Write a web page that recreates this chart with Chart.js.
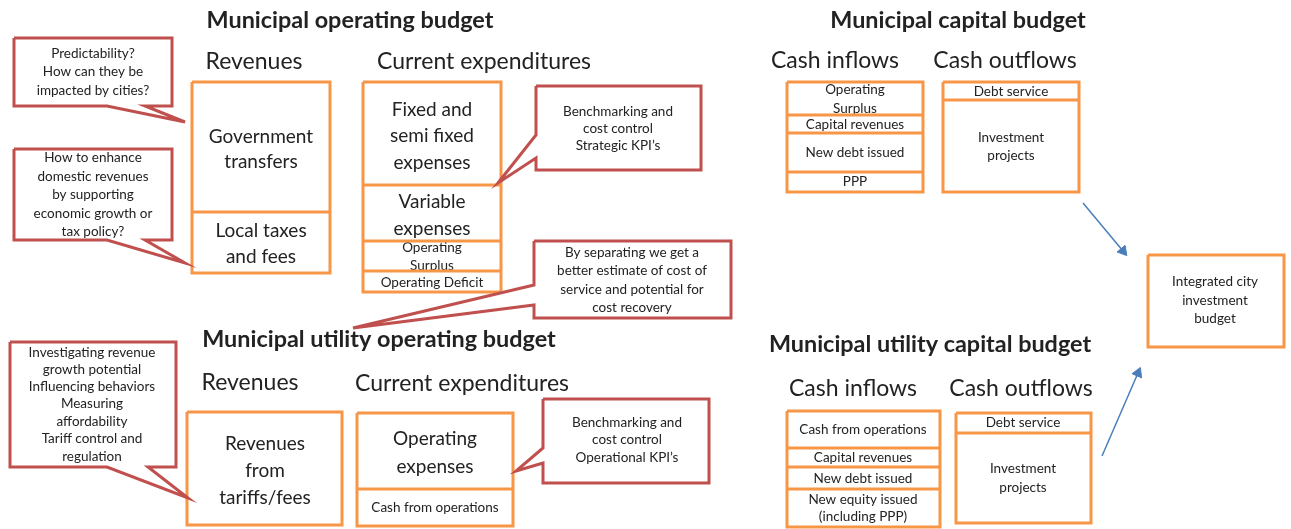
<!DOCTYPE html>
<html>
<head>
<meta charset="utf-8">
<script src="https://cdn.jsdelivr.net/npm/chart.js@4"></script>
<style>
  html, body { margin: 0; padding: 0; background: #fff; }
  #wrap { width: 1291px; height: 529px; }
</style>
</head>
<body>
<div id="wrap"><canvas id="diagram" width="1291" height="529"></canvas></div>
<script>
// diagram data - coordinates are in the chart's own units (x 0..1291, y 0..529 top-down)
const boxes = [
  [192, 82, 330, 273],
  [363, 82, 501, 292],
  [787, 82, 923, 192],
  [943, 82, 1079, 192],
  [1148, 255, 1284, 347],
  [187, 412, 342, 525],
  [357, 413, 513, 526],
  [787, 411, 940, 527],
  [956, 413, 1091, 523],
];
// [xStart, xEnd, y]
const dividers = [
  [192, 330, 212],
  [363, 501, 185], [363, 501, 241], [363, 501, 271],
  [787, 923, 115], [787, 923, 133], [787, 923, 172],
  [943, 1079, 100],
  [357, 513, 489],
  [787, 940, 448], [787, 940, 467], [787, 940, 489],
  [956, 1091, 433],
];
// callout rect, side of the tail, tail base (2 values along side), tip
const calloutRects = [
  [14, 38, 172, 106],
  [14, 149, 172, 240],
  [536, 86, 701, 170],
  [534, 241, 731, 318],
  [543, 399, 709, 483],
  [10, 342, 176, 467],
];
const calloutSides = ['bottom', 'bottom', 'left', 'left', 'left', 'bottom'];
const calloutBases = [[107, 145], [107, 145], [135, 158], [285, 305], [448, 463], [107, 148]];
const calloutTips = [[185, 122], [185, 263], [498, 183], [353, 328], [516, 471], [188, 498]];
const calloutText = [
  ['Predictability?', 'How can they be', 'impacted by cities?'],
  ['How to enhance', 'domestic revenues', 'by supporting', 'economic growth or', 'tax policy?'],
  ['Benchmarking and', 'cost control', 'Strategic KPI\u2019s'],
  ['By separating we get a', 'better estimate of cost of', 'service and potential for', 'cost recovery'],
  ['Benchmarking and', 'cost control', 'Operational KPI\u2019s'],
  ['Investigating revenue', 'growth potential', 'Influencing behaviors', 'Measuring', 'affordability', 'Tariff control and', 'regulation'],
];
const calloutTextX = [93, 93, 618, 632, 627, 92];
const calloutTextY = [
  [54, 72, 91],
  [158, 177, 195, 214, 232],
  [112, 129, 146],
  [253, 271, 290, 308],
  [423, 440, 458],
  [353, 370, 387, 404, 422, 439, 457],
];
// arrows [x0, y0, x1, y1]
const arrows = [
  [1083, 203, 1123, 251],
  [1102, 456, 1138, 373],
];

const titles = ['Municipal operating budget', 'Municipal capital budget', 'Municipal utility operating budget', 'Municipal utility capital budget'];
const titleXY = [[350, 20], [958, 20], [379, 339], [930, 344]];

const headers = ['Revenues', 'Current expenditures', 'Cash inflows', 'Cash outflows',
  'Revenues', 'Current expenditures', 'Cash inflows', 'Cash outflows'];
const headerXY = [[254, 62], [484, 62], [835, 61], [1005, 61], [250, 383], [462, 384], [853, 389], [1021, 389]];

const bigText = [
  ['Government', 261, 137], ['transfers', 261, 162],
  ['Local taxes', 261, 231], ['and fees', 261, 257],
  ['Fixed and', 432, 110], ['semi fixed', 432, 136], ['expenses', 432, 163],
  ['Variable', 432, 202], ['expenses', 432, 229],
  ['Revenues', 265, 444], ['from', 265, 471], ['tariffs/fees', 265, 498],
  ['Operating', 435, 439], ['expenses', 435, 467],
];
const smallText = [
  ['Operating', 432, 248], ['Surplus', 432, 266], ['Operating Deficit', 432, 283],
  ['Operating', 855, 90], ['Surplus', 855, 109], ['Capital revenues', 855, 125],
  ['New debt issued', 855, 153], ['PPP', 855, 182],
  ['Debt service', 1011, 92], ['Investment', 1011, 138], ['projects', 1011, 156],
  ['Integrated city', 1215, 282], ['investment', 1215, 301], ['budget', 1215, 319],
  ['Cash from operations', 435, 508],
  ['Cash from operations', 863, 430], ['Capital revenues', 863, 458], ['New debt issued', 863, 479],
  ['New equity issued', 863, 500], ['(including PPP)', 863, 517],
  ['Debt service', 1023, 423], ['Investment', 1023, 469], ['projects', 1023, 488],
];

const ORANGE = '#F79646';
const RED = '#C0504D';
const BLUE = '#4A7EBB';
const INK = '#222222';
const FONT = 'Lato, "Open Sans", sans-serif';

const datasets = [];

// callouts first so the boxes sit on top
calloutRects.forEach((r, i) => {
  const [x1, y1, x2, y2] = r;
  const [a, b] = calloutBases[i];
  const tip = { x: calloutTips[i][0], y: calloutTips[i][1] };
  let pts;
  if (calloutSides[i] === 'bottom') {
    pts = [{x: x1, y: y1}, {x: x2, y: y1}, {x: x2, y: y2}, {x: b, y: y2}, tip, {x: a, y: y2}, {x: x1, y: y2}, {x: x1, y: y1}];
  } else {
    pts = [{x: x1, y: y1}, {x: x2, y: y1}, {x: x2, y: y2}, {x: x1, y: y2}, {x: x1, y: b}, tip, {x: x1, y: a}, {x: x1, y: y1}];
  }
  datasets.push({
    data: pts, showLine: true, borderColor: RED, borderWidth: 3, pointRadius: 0,
    backgroundColor: '#fff', fill: true, tension: 0, borderJoinStyle: 'miter', clip: false,
  });
});

boxes.forEach(r => {
  const [x1, y1, x2, y2] = r;
  datasets.push({
    data: [{x: x1, y: y1}, {x: x2, y: y1}, {x: x2, y: y2}, {x: x1, y: y2}, {x: x1, y: y1}],
    showLine: true, borderColor: ORANGE, borderWidth: 3, pointRadius: 0, fill: false,
    tension: 0, borderJoinStyle: 'miter', clip: false,
  });
});

dividers.forEach(d => {
  datasets.push({
    data: [{x: d[0], y: d[2]}, {x: d[1], y: d[2]}],
    showLine: true, borderColor: ORANGE, borderWidth: 3, pointRadius: 0, fill: false, clip: false,
  });
});

arrows.forEach(a => {
  datasets.push({
    data: [{x: a[0], y: a[1]}, {x: a[2], y: a[3]}],
    showLine: true, borderColor: BLUE, borderWidth: 1.5, fill: false, clip: false,
    pointStyle: 'triangle',
    pointRadius: ctx => (ctx.dataIndex === 1 ? 6 : 0),
    pointBackgroundColor: BLUE, pointBorderColor: BLUE, pointBorderWidth: 1,
    pointRotation: ctx => {
      const sx = ctx.chart.scales.x, sy = ctx.chart.scales.y;
      const dx = sx.getPixelForValue(a[2]) - sx.getPixelForValue(a[0]);
      const dy = sy.getPixelForValue(a[3]) - sy.getPixelForValue(a[1]);
      return Math.atan2(dx, -dy) * 180 / Math.PI;
    },
  });
});

function put(ctx, chart, txt, x, y) {
  ctx.fillText(txt, chart.scales.x.getPixelForValue(x), chart.scales.y.getPixelForValue(y));
}

const textPlugin = {
  id: 'diagramText',
  beforeDatasetsDraw(chart) {
    const ctx = chart.ctx;
    ctx.save();
    ctx.fillStyle = INK;
    ctx.textAlign = 'center';
    ctx.textBaseline = 'middle';
    ctx.font = 'bold 23.4px ' + FONT;
    titles.forEach((t, i) => put(ctx, chart, t, titleXY[i][0], titleXY[i][1]));
    ctx.font = '23px ' + FONT;
    headers.forEach((t, i) => put(ctx, chart, t, headerXY[i][0], headerXY[i][1]));
    ctx.font = '19px ' + FONT;
    bigText.forEach(t => put(ctx, chart, t[0], t[1], t[2]));
    ctx.font = '13.5px ' + FONT;
    smallText.forEach(t => put(ctx, chart, t[0], t[1], t[2]));
    ctx.restore();
  },
  afterDatasetsDraw(chart) {
    const ctx = chart.ctx;
    ctx.save();
    ctx.fillStyle = INK;
    ctx.textAlign = 'center';
    ctx.textBaseline = 'middle';
    ctx.font = '13.5px ' + FONT;
    calloutText.forEach((lines, i) => {
      lines.forEach((ln, j) => put(ctx, chart, ln, calloutTextX[i], calloutTextY[i][j]));
    });
    ctx.restore();
  },
};

new Chart(document.getElementById('diagram'), {
  type: 'scatter',
  data: { datasets },
  options: {
    responsive: false,
    animation: false,
    layout: { padding: 0, autoPadding: false },
    scales: {
      x: { type: 'linear', min: 0, max: 1291, display: false },
      y: { type: 'linear', min: 0, max: 529, reverse: true, display: false },
    },
    plugins: { legend: { display: false }, tooltip: { enabled: false } },
  },
  plugins: [textPlugin],
});
</script>
</body>
</html>
